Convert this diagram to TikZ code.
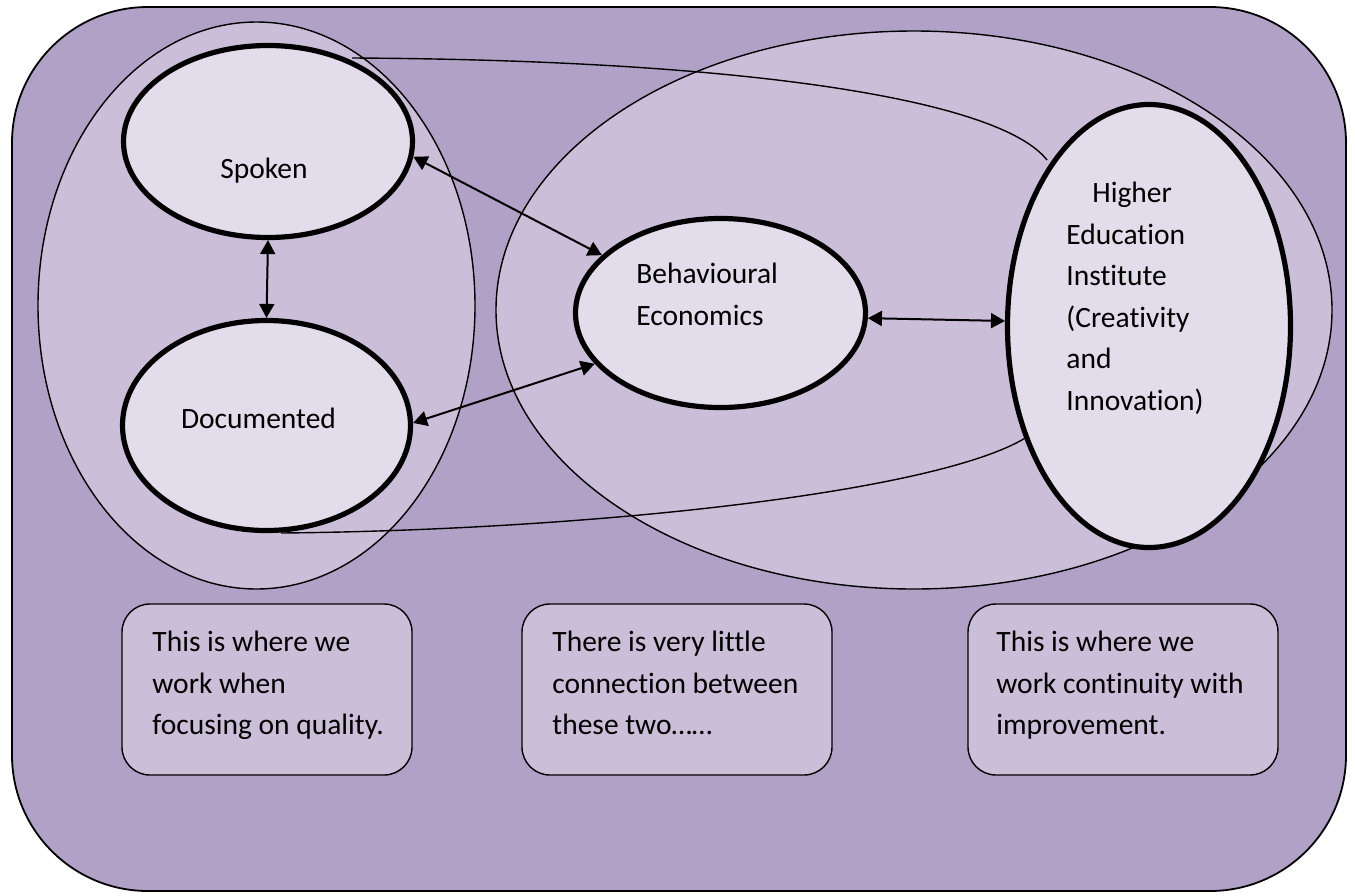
\documentclass[tikz,border=0pt]{standalone}
\usepackage{fontspec}
\setmainfont{Carlito}[Ligatures=CommonOff]
\usetikzlibrary{shapes.geometric,arrows.meta}
\definecolor{plumdark}{HTML}{B1A1C7}
\definecolor{plummid}{HTML}{CBBED8}
\definecolor{plumlight}{HTML}{E3DDEB}
\tikzset{
  zone/.style={draw,ellipse,fill=plummid,line width=0.7pt,inner sep=0},
  bubble/.style={draw,ellipse,fill=plumlight,line width=2.6pt,inner sep=0},
  note/.style={draw,rectangle,rounded corners=14pt,fill=plummid,line width=0.7pt,inner sep=0,minimum height=85.5pt},
  txt/.style={inner sep=0,align=left,font=\fontsize{14.75}{20.75}\selectfont},
  link/.style={line width=1pt,{Triangle[length=7pt,width=7.5pt]}-{Triangle[length=7pt,width=7.5pt]}},
  tie/.style={line width=0.7pt}
}

\begin{document}
\begin{tikzpicture}[x=0.5pt,y=-0.5pt]
	\useasboundingbox (0,0) rectangle (1355,895);
	\draw[fill=plumdark,line width=0.9pt,rounded corners=68pt] (12,7) rectangle (1346,891);
	% the two groups
	\node[zone,minimum width=218.5pt,minimum height=283.5pt] (left) at (256.5,305.5) {};
	\node[zone,minimum width=418pt,minimum height=279pt] (right) at (914,310) {};
	% loose ties
	\coordinate (spokentop) at (352,58);
	\coordinate (docbottom) at (281,533);
	\draw[tie] (spokentop) .. controls (750,60) and (1000,100) .. (1047,160);
	\draw[tie] (docbottom) .. controls (600,530) and (960,490) .. (1034,432);
	% the bubbles
	\node[bubble,minimum width=144.5pt,minimum height=96pt] (spoken) at (268,141.5) {};
	\node[bubble,minimum width=144pt,minimum height=105pt] (doc) at (266.5,425.5) {};
	\node[bubble,minimum width=145pt,minimum height=94.5pt] (behav) at (720.5,313) {};
	\node[bubble,minimum width=141.5pt,minimum height=221.5pt] (hei) at (1149,326) {};
	\node[txt,anchor=base] (spokentxt) at (264,178) {Spoken};
	\node[txt,anchor=base] (doctxt) at (258.5,428) {Documented};
	\node[txt,anchor=north west] (behavtxt) at (636,263) {Behavioural\\Economics};
	\node[txt,anchor=north west] (heitxt) at (1066,182) {\hspace*{13pt}Higher\\Education\\Institute\\(Creativity\\and\\Innovation)};
	% arrows
	\draw[link] (spoken.south) -- (doc.north);
	\draw[link] (spoken.-6) -- (behav.154);
	\draw[link] (doc.1) -- (behav.202);
	\draw[link] (behav.-2) -- (hei.178);
	% notes
	\node[note,minimum width=145pt] (note1) at (267,689.5) {};
	\node[note,minimum width=155pt] (note2) at (677,689.5) {};
	\node[note,minimum width=155pt] (note3) at (1123,689.5) {};
	\node[txt,anchor=north west] (note1txt) at (152,631) {This is where we\\work when\\focusing on quality.};
	\node[txt,anchor=north west] (note2txt) at (552,631) {There is very little\\connection between\\these two……};
	\node[txt,anchor=north west] (note3txt) at (996,631) {This is where we\\work continuity with\\improvement.};
\end{tikzpicture}
\end{document}
